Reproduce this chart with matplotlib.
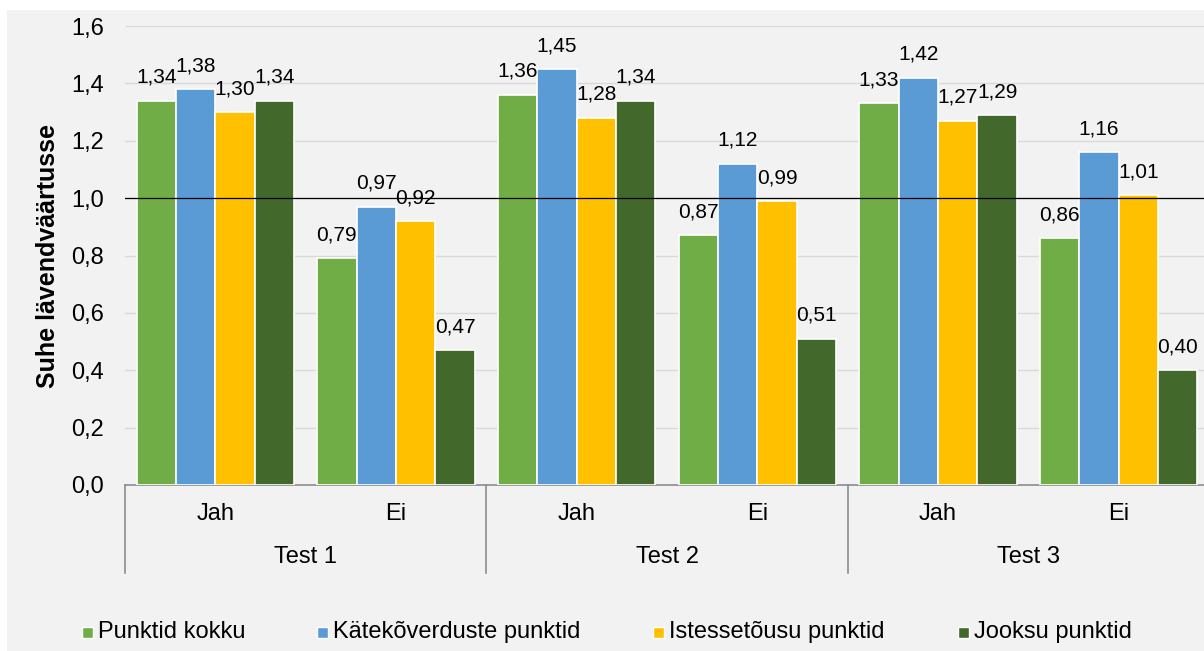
import matplotlib
matplotlib.use("Agg")
import matplotlib.pyplot as plt
from matplotlib.patches import Rectangle
import numpy as np

plt.rcParams['font.family'] = ['Liberation Sans', 'DejaVu Sans']

groups = ["Test 1", "Test 2", "Test 3"]
subcats = ["Jah", "Ei"]
series = ["Punktid kokku", "Kätekõverduste punktid", "Istessetõusu punktid", "Jooksu punktid"]
colors = ["#70AD47", "#5B9BD5", "#FFC000", "#43682B"]

punktid_kokku = [1.34, 0.79, 1.36, 0.87, 1.33, 0.86]
katekoverduste = [1.38, 0.97, 1.45, 1.12, 1.42, 1.16]
istessetousu = [1.30, 0.92, 1.28, 0.99, 1.27, 1.01]
jooksu = [1.34, 0.47, 1.34, 0.51, 1.29, 0.40]
values = [punktid_kokku, katekoverduste, istessetousu, jooksu]

yticks = [0.0, 0.2, 0.4, 0.6, 0.8, 1.0, 1.2, 1.4, 1.6]
threshold = 1.0

FS_LBL = 15
FS_AX = 17
FS_LEG = 17
W, H = 1204, 651
fig = plt.figure(figsize=(W / 100, H / 100), dpi=100)
fig.patch.set_facecolor("white")
bg = Rectangle((7 / W, 0), 1, 1 - 10 / H, transform=fig.transFigure,
               facecolor="#F2F2F2", edgecolor="none", zorder=-10)
fig.patches.append(bg)

ax = fig.add_axes([125 / W, 1 - 485 / H, (1209 - 125) / W, (485 - 26) / H])
ax.patch.set_visible(False)

n_cat = len(groups) * len(subcats)
x = np.arange(n_cat)
bw = 0.218
offsets = (np.arange(len(series)) - 1.5) * bw
for i, (vals, c) in enumerate(zip(values, colors)):
    ax.bar(x + offsets[i], vals, width=bw, color=c, edgecolor="white", linewidth=1.2, zorder=3)
    for xi, v in zip(x + offsets[i], vals):
        ax.annotate(f"{v:.2f}".replace(".", ","), (xi, v), xytext=(0, 10), textcoords="offset points",
                    ha="center", va="bottom", fontsize=FS_LBL, color="#000000", zorder=5)

ax.set_xlim(-0.5, n_cat - 0.5)
ax.set_ylim(0, 1.6)
ax.set_yticks(yticks)
ax.set_yticklabels([f"{t:.1f}".replace(".", ",") for t in yticks], fontsize=FS_AX)
ax.yaxis.grid(True, color="#D9D9D9", linewidth=1, zorder=0)
ax.set_axisbelow(True)
ax.axhline(threshold, color="#000000", linewidth=0.9, zorder=4)
for s in ["top", "right", "left"]:
    ax.spines[s].set_visible(False)
ax.spines["bottom"].set_color("#8C8C8C")
ax.spines["bottom"].set_linewidth(1.2)
ax.tick_params(axis="y", length=0, pad=15)
ax.set_xticks([])
ax.set_ylabel("Suhe lävendväärtusse", fontsize=18, fontweight="bold", labelpad=8)

# two-level category axis
trans = ax.get_xaxis_transform()
sub_y = -(514 - 485) / (485 - 26)
grp_y = -(557 - 485) / (485 - 26)
line_bottom = -(573 - 485) / (485 - 26)
for gi, g in enumerate(groups):
    for si, s in enumerate(subcats):
        k = gi * len(subcats) + si
        ax.text(k, sub_y, s, transform=trans, ha="center", va="center", fontsize=FS_AX)
    center = gi * len(subcats) + (len(subcats) - 1) / 2
    ax.text(center, grp_y, g, transform=trans, ha="center", va="center", fontsize=FS_AX)
for b in range(len(groups) + 1):
    xb = b * len(subcats) - 0.5
    ax.plot([xb, xb], [0, line_bottom], transform=trans, color="#8C8C8C", linewidth=1.2,
            clip_on=False, zorder=2)

# legend
leg_marker_x = [82, 317, 653, 958]
leg_y = 1 - 632 / H
for mx, name, c in zip(leg_marker_x, series, colors):
    fig.patches.append(Rectangle((mx / W, leg_y - 5.5 / H), 11 / W, 11 / H, transform=fig.transFigure,
                                 facecolor=c, edgecolor="white", linewidth=1, zorder=3))
    fig.text((mx + 16) / W, leg_y, name, ha="left", va="center", fontsize=FS_LEG)

fig.savefig("out.png", dpi=100, facecolor=fig.get_facecolor())
